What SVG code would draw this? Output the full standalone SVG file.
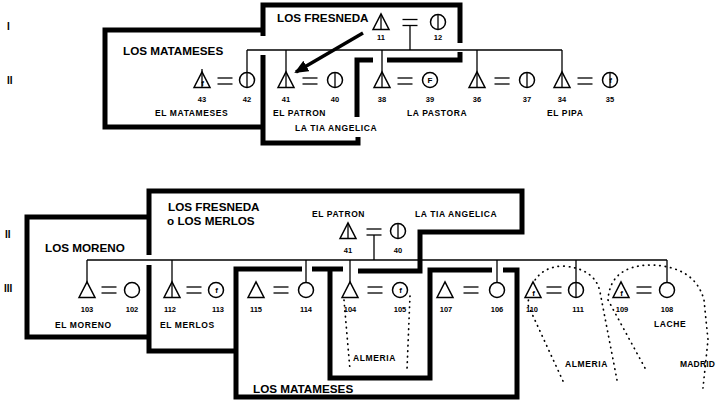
<svg xmlns="http://www.w3.org/2000/svg" xmlns:xlink="http://www.w3.org/1999/xlink" width="719" height="402" viewBox="0 0 719 402">
<style>
.thick{fill:none;stroke:#000;stroke-width:5}
.ln{fill:none;stroke:#000;stroke-width:1.3}
.sym{fill:#fff;stroke:#000;stroke-width:1.5}
.dot{fill:none;stroke:#000;stroke-width:1.7;stroke-dasharray:0.5 5;stroke-linecap:round}
text{font-family:"Liberation Sans",Arial,sans-serif;font-weight:bold;fill:#000}
.num{font-size:7.5px;text-anchor:middle}
.lbl{font-size:8.5px;letter-spacing:0.6px}
.ttl{font-size:11.7px}
.rom{font-size:10px}
.f{font-size:8px;text-anchor:middle}
</style>
<defs>
<g id="tri"><polygon class="sym" points="-8,7.5 0,-8 8,7.5"/></g>
<g id="triL"><use xlink:href="#tri"/><line class="ln" x1="0" y1="-8" x2="0" y2="7.5"/></g>
<g id="circ"><circle class="sym" r="7.5"/></g>
<g id="circL"><use xlink:href="#circ"/><line class="ln" x1="0" y1="-7.5" x2="0" y2="7.5"/></g>
<g id="eq" class="ln"><line x1="-7.5" y1="-3" x2="7.5" y2="-3"/><line x1="-7.5" y1="3" x2="7.5" y2="3"/></g>
<marker id="ah" markerUnits="userSpaceOnUse" markerWidth="14" markerHeight="12" refX="12" refY="6" orient="auto"><path d="M0,0 L14,6 L0,12 z" fill="#000"/></marker>
</defs>
<rect width="719" height="402" fill="#fff"/>

<!-- generation numerals -->
<text class="rom" x="7" y="30">I</text>
<text class="rom" x="7" y="84">II</text>
<text class="rom" x="5" y="238">II</text>
<text class="rom" x="4" y="292">III</text>

<!-- TOP: group boundaries -->
<g id="boundaries-top">
<path class="thick" d="M263 30 H105 V127 H263"/>
<path class="thick" d="M263 36 V5 H460 V43"/>
<path class="thick" d="M263 55 V143 H358 V137"/>
<path class="thick" d="M357 117 V60 H373"/>
<path class="thick" d="M387 60 H460 V52"/>
<text class="ttl" x="123" y="55">LOS MATAMESES</text>
<text class="ttl" x="277" y="22">LOS FRESNEDA</text>
</g>

<!-- BOTTOM: group boundaries -->
<g id="boundaries-bottom">
<path class="thick" d="M149 255 V191 H522 V232 H420 V271 H358"/>
<path class="thick" d="M149 217 H27 V337 H149"/>
<path class="thick" d="M149 265 V351 H238"/>
<path class="thick" d="M302 269 H236 V397 H517 V270 H503"/>
<path class="thick" d="M312 269 H343"/>
<path class="thick" d="M330 269 V378 H430 V270 H492"/>
<text class="ttl" x="45" y="252">LOS MORENO</text>
<text class="ttl" x="168" y="211">LOS FRESNEDA</text>
<text class="ttl" x="167" y="225">o LOS MERLOS</text>
<text class="ttl" x="253" y="393">LOS MATAMESES</text>
</g>

<!-- connectors -->
<g id="connectors">
<!-- top -->
<use xlink:href="#eq" x="410" y="22.5"/>
<line class="ln" x1="410" y1="26" x2="410" y2="50"/>
<line class="ln" x1="247" y1="50" x2="562" y2="50"/>
<line class="ln" x1="247" y1="50" x2="247" y2="72.5"/>
<line class="ln" x1="286" y1="50" x2="286" y2="72"/>
<line class="ln" x1="382" y1="50" x2="382" y2="72"/>
<line class="ln" x1="477" y1="50" x2="477" y2="72"/>
<line class="ln" x1="562" y1="50" x2="562" y2="72"/>
<use xlink:href="#eq" x="225" y="81"/>
<use xlink:href="#eq" x="310" y="81"/>
<use xlink:href="#eq" x="405" y="81"/>
<use xlink:href="#eq" x="502" y="81"/>
<use xlink:href="#eq" x="585" y="81"/>
<line x1="363" y1="33" x2="296" y2="72" stroke="#000" stroke-width="3.5" marker-end="url(#ah)"/>
<!-- bottom -->
<use xlink:href="#eq" x="374" y="232"/>
<line class="ln" x1="374" y1="235" x2="374" y2="260"/>
<line class="ln" x1="87" y1="260" x2="667" y2="260"/>
<line class="ln" x1="87" y1="260" x2="87" y2="282"/>
<line class="ln" x1="172" y1="260" x2="172" y2="282"/>
<line class="ln" x1="306" y1="260" x2="306" y2="282.5"/>
<line class="ln" x1="350" y1="260" x2="350" y2="282"/>
<line class="ln" x1="497" y1="260" x2="497" y2="282.5"/>
<line class="ln" x1="576" y1="260" x2="576" y2="282.5"/>
<line class="ln" x1="667" y1="260" x2="667" y2="282.5"/>
<use xlink:href="#eq" x="109" y="290"/>
<use xlink:href="#eq" x="194" y="290"/>
<use xlink:href="#eq" x="281" y="290"/>
<use xlink:href="#eq" x="375" y="290"/>
<use xlink:href="#eq" x="471" y="290"/>
<use xlink:href="#eq" x="554" y="290"/>
<use xlink:href="#eq" x="644" y="290"/>
<!-- dotted migration outlines -->
<path class="dot" d="M344 300 L350 370"/>
<path class="dot" d="M410 296 L407 370"/>
<path class="dot" d="M563 381 L528 305 Q530 268 562 266 Q595 268 600 292 L617 380"/>
<path class="dot" d="M645 368 L608 300 Q610 266 650 265 Q695 266 704 300 L708 340 L703 388"/>
</g>

<!-- TOP nodes -->
<g id="n11"><use xlink:href="#triL" x="381" y="22"/><text class="num" x="381" y="40">11</text></g>
<g id="n12"><use xlink:href="#circL" x="438" y="22"/><text class="num" x="438" y="40">12</text></g>
<g id="n43"><use xlink:href="#triL" x="202" y="80"/><line class="ln" x1="202" y1="69" x2="202" y2="72"/><text class="f" x="202.5" y="86">f</text><text class="num" x="202" y="102">43</text></g>
<g id="n42"><use xlink:href="#circL" x="247" y="80"/><text class="num" x="247" y="102">42</text></g>
<g id="n41"><use xlink:href="#triL" x="286" y="80"/><text class="num" x="286" y="102">41</text></g>
<g id="n40"><use xlink:href="#circL" x="335" y="80"/><text class="num" x="335" y="102">40</text></g>
<g id="n38"><use xlink:href="#triL" x="382" y="80"/><text class="num" x="382" y="102">38</text></g>
<g id="n39"><use xlink:href="#circ" x="430" y="80"/><text class="f" x="430" y="83">F</text><text class="num" x="430" y="102">39</text></g>
<g id="n36"><use xlink:href="#triL" x="477" y="80"/><text class="num" x="477" y="102">36</text></g>
<g id="n37"><use xlink:href="#circL" x="527" y="80"/><text class="num" x="527" y="102">37</text></g>
<g id="n34"><use xlink:href="#triL" x="562" y="80"/><text class="num" x="562" y="102">34</text></g>
<g id="n35"><use xlink:href="#circL" x="610" y="80"/><text class="f" x="610.5" y="83">f</text><text class="num" x="610" y="102">35</text></g>
<g id="labels-top">
<text class="lbl" x="155" y="116">EL MATAMESES</text>
<text class="lbl" x="273" y="116">EL PATRON</text>
<text class="lbl" x="295" y="131">LA TIA ANGELICA</text>
<text class="lbl" x="407" y="116">LA PASTORA</text>
<text class="lbl" x="547" y="116">EL PIPA</text>
</g>

<!-- BOTTOM nodes -->
<g id="b41"><use xlink:href="#triL" x="348" y="231"/><text class="num" x="348" y="253">41</text><text class="lbl" x="312" y="217">EL PATRON</text></g>
<g id="b40"><use xlink:href="#circL" x="398" y="231"/><text class="num" x="398" y="253">40</text><text class="lbl" x="415" y="217">LA TIA ANGELICA</text></g>
<g id="n103"><use xlink:href="#tri" x="87" y="290"/><text class="num" x="87" y="312">103</text></g>
<g id="n102"><use xlink:href="#circ" x="132" y="290"/><text class="num" x="132" y="312">102</text></g>
<g id="n112"><use xlink:href="#triL" x="172" y="290"/><text class="num" x="170" y="312">112</text></g>
<g id="n113"><use xlink:href="#circ" x="216" y="290"/><text class="f" x="216.5" y="293">f</text><text class="num" x="218" y="312">113</text></g>
<g id="n115"><use xlink:href="#tri" x="256" y="290"/><text class="num" x="256" y="312">115</text></g>
<g id="n114"><use xlink:href="#circ" x="306" y="290"/><text class="num" x="306" y="312">114</text></g>
<g id="n104"><use xlink:href="#tri" x="350" y="290"/><text class="num" x="350" y="312">104</text></g>
<g id="n105"><use xlink:href="#circ" x="400" y="290"/><text class="f" x="400.5" y="293">f</text><text class="num" x="400" y="312">105</text></g>
<g id="n107"><use xlink:href="#tri" x="445" y="290"/><text class="num" x="446" y="312">107</text></g>
<g id="n106"><use xlink:href="#circ" x="497" y="290"/><text class="num" x="497" y="312">106</text></g>
<g id="n110"><use xlink:href="#tri" x="533" y="290"/><text class="f" x="533.5" y="296">f</text><text class="num" x="532" y="312">110</text></g>
<g id="n111"><use xlink:href="#circL" x="576" y="290"/><text class="num" x="578" y="312">111</text></g>
<g id="n109"><use xlink:href="#tri" x="621" y="290"/><text class="f" x="621.5" y="296">f</text><text class="num" x="622" y="312">109</text></g>
<g id="n108"><use xlink:href="#circ" x="667" y="290"/><text class="num" x="667" y="312">108</text></g>
<g id="labels-bottom">
<text class="lbl" x="55" y="328">EL MORENO</text>
<text class="lbl" x="160" y="328">EL MERLOS</text>
<text class="lbl" x="353" y="361">ALMERIA</text>
<text class="lbl" x="565" y="367">ALMERIA</text>
<text class="lbl" x="654" y="327">LACHE</text>
<text class="lbl" x="680" y="367" style="letter-spacing:0.2px">MADRID</text>
</g>
</svg>
